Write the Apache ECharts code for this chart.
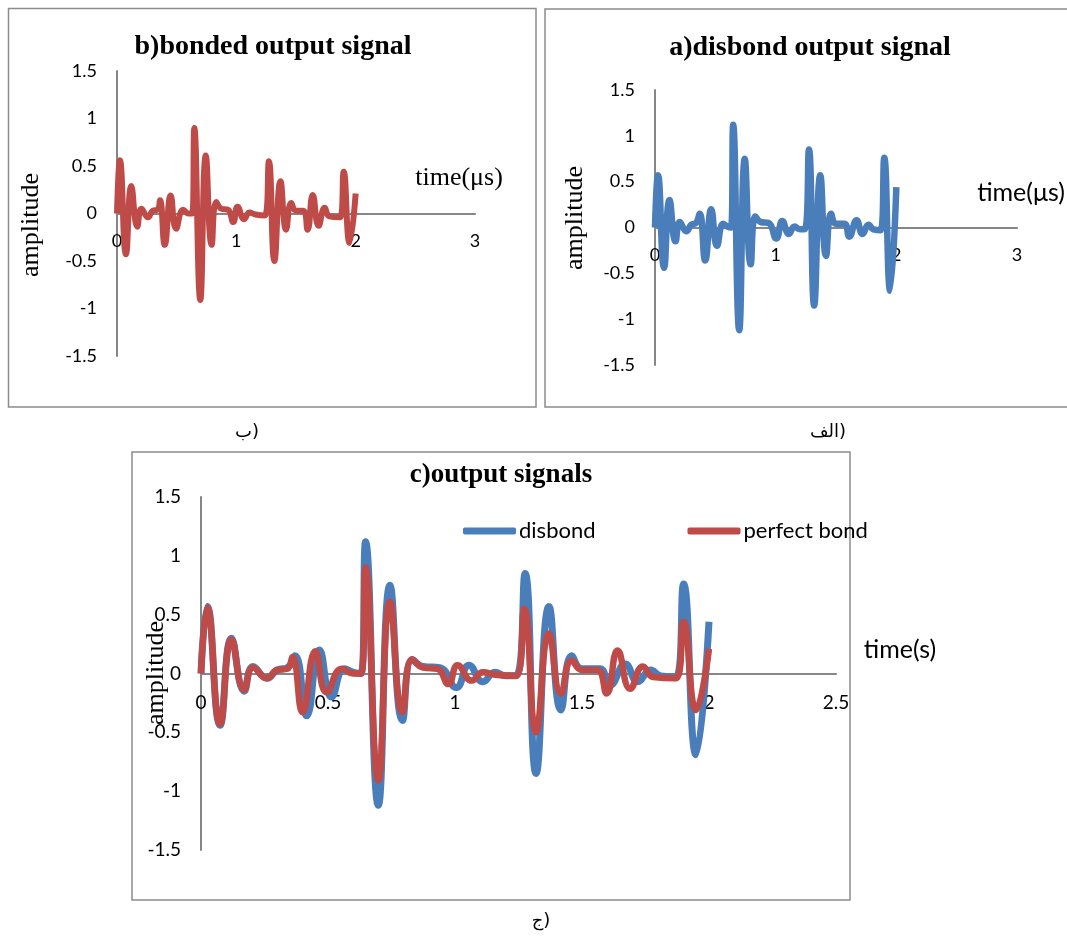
<!DOCTYPE html>
<html>
<head>
<meta charset="utf-8">
<script src="https://cdn.jsdelivr.net/npm/echarts@6/dist/echarts.min.js"></script>
<style>
html,body{margin:0;padding:0;background:#fff;}
#c{width:1067px;height:937px;}
</style>
</head>
<body>
<div id="c"></div>
<script>
// time values (µs) and amplitudes
const disbondTime = [0,0.025,0.075,0.12,0.17,0.205,0.26,0.30,0.34,0.37,0.416,0.466,0.514,0.565,0.60,0.63,0.648,0.698,0.744,0.793,0.832,0.875,0.94,1.005,1.055,1.11,1.157,1.20,1.24,1.276,1.319,1.37,1.417,1.46,1.50,1.57,1.61,1.67,1.72,1.77,1.81,1.87,1.90,1.949,2.0];
const disbondAmp  = [0,0.57,-0.44,0.30,-0.15,0.06,-0.04,0.03,0.05,0.15,-0.36,0.20,-0.20,0.04,0.01,0.0,1.12,-1.12,0.75,-0.40,0.12,0.06,0.05,-0.12,0.07,-0.07,0.01,-0.02,-0.02,0.85,-0.85,0.57,-0.31,0.15,0.04,0.04,-0.10,0.08,-0.07,0.03,-0.02,-0.03,0.76,-0.69,0.44];

const bondTime = [0,0.025,0.075,0.12,0.17,0.205,0.26,0.30,0.34,0.36,0.40,0.45,0.495,0.555,0.60,0.63,0.648,0.698,0.744,0.793,0.832,0.875,0.93,0.974,1.01,1.066,1.11,1.16,1.24,1.273,1.319,1.37,1.417,1.46,1.50,1.56,1.597,1.64,1.69,1.74,1.78,1.87,1.90,1.949,2.0];
const bondAmp  = [0,0.56,-0.43,0.29,-0.14,0.05,-0.04,0.03,0.04,0.14,-0.33,0.19,-0.16,0.04,0.0,0.0,0.90,-0.91,0.61,-0.33,0.12,0.05,0.04,-0.09,0.07,-0.06,0.01,-0.01,-0.02,0.55,-0.50,0.34,-0.17,0.11,0.03,0.03,-0.17,0.195,-0.13,0.06,-0.03,-0.04,0.44,-0.31,0.21];

const seriesNames = ['disbond','perfect bond'];
const titles = ['b)bonded output signal','a)disbond output signal','c)output signals'];
const xNames = ['time(\u03bcs)','time(\u03bcs)','time(s)'];
const yName = 'amplitude';
const panelLabels = ['\u0628)','\u0627\u0644\u0641)','\u062c)'];

const BLUE = '#4A7EBB', RED = '#BE4B48', AXIS = '#868686';
const pairs = (t, v) => t.map((x, i) => [x, v[i]]);

const chart = echarts.init(document.getElementById('c'), null, {renderer:'canvas'});

const grids = [
  {left:117, top:71, width:358, height:285},
  {left:655, top:90, width:362, height:275},
  {left:201, top:497, width:635, height:353}
];

// x axis sits at amplitude 0 (middle of the symmetric y range)
function xAx(gi, max, fs, margin){
  return {gridIndex: gi, type:'value', min:0, max:max, interval: gi===2?0.5:1,
    position:'bottom', offset: -grids[gi].height/2,
    axisLine:{show:true, onZero:false, lineStyle:{color:AXIS, width:2}},
    axisTick:{show:false}, splitLine:{show:false},
    axisLabel:{color:'#000', fontFamily:'Lato', fontSize:fs, margin:margin}};
}
function yAx(gi, fs){
  return {gridIndex: gi, type:'value', min:-1.5, max:1.5, interval:0.5,
    axisLine:{show:true, onZero:false, lineStyle:{color:AXIS, width:2}},
    axisTick:{show:false}, splitLine:{show:false},
    axisLabel:{color:'#000', fontFamily:'Lato', fontSize:fs, margin:20}};
}

const serif = 'Liberation Serif';
function txt(x, y, s, font, size, opts){
  return Object.assign({type:'text', x:x, y:y, silent:true,
    style:{text:s, fontFamily:font, fontSize:size, fill:'#000', align:'center', verticalAlign:'middle',
      fontWeight:(opts&&opts.bold)?'bold':'normal'}}, (opts&&opts.rot)?{rotation:Math.PI/2}:{});
}

const option = {
  animation:false,
  backgroundColor:'#fff',
  grid: grids,
  xAxis:[xAx(0,3,18,19), xAx(1,3,18,19), xAx(2,2.5,19,20)],
  yAxis:[yAx(0,18), yAx(1,18), yAx(2,19)],
  legend:{
    data:seriesNames, left:458, top:515, itemWidth:53, itemHeight:7, itemGap:92,
    icon:'roundRect', textStyle:{fontFamily:'Lato', fontSize:22, color:'#000', padding:[0,0,0,-2]}
  },
  series:[
    {name:'bonded', type:'line', xAxisIndex:0, yAxisIndex:0, data:pairs(bondTime,bondAmp), smooth:true, symbol:'none', lineStyle:{color:RED, width:6}, itemStyle:{color:RED}},
    {name:'disbond only', type:'line', xAxisIndex:1, yAxisIndex:1, data:pairs(disbondTime,disbondAmp), smooth:true, symbol:'none', lineStyle:{color:BLUE, width:6.5}, itemStyle:{color:BLUE}},
    {name:seriesNames[0], type:'line', xAxisIndex:2, yAxisIndex:2, data:pairs(disbondTime,disbondAmp), smooth:true, symbol:'none', lineStyle:{color:BLUE, width:7}, itemStyle:{color:BLUE}},
    {name:seriesNames[1], type:'line', xAxisIndex:2, yAxisIndex:2, data:pairs(bondTime,bondAmp), smooth:true, symbol:'none', lineStyle:{color:RED, width:6.5}, itemStyle:{color:RED}}
  ],
  graphic:[
    {type:'rect', shape:{x:8.5, y:8.5, width:527.5, height:398.5}, style:{fill:null, stroke:'#8c8c8c', lineWidth:1.5}, silent:true, z:-1},
    {type:'rect', shape:{x:545, y:9, width:530, height:398}, style:{fill:null, stroke:'#8c8c8c', lineWidth:1.5}, silent:true, z:-1},
    {type:'rect', shape:{x:132, y:452, width:718, height:448}, style:{fill:null, stroke:'#8c8c8c', lineWidth:1.5}, silent:true, z:-1},
    txt(273, 47, titles[0], serif, 28, {bold:true}),
    txt(810, 48, titles[1], serif, 28, {bold:true}),
    txt(501, 475, titles[2], serif, 27, {bold:true}),
    txt(31, 225, yName, serif, 26, {rot:true}),
    txt(575, 218, yName, serif, 26, {rot:true}),
    txt(156, 673, yName, serif, 26, {rot:true}),
    txt(459, 178, xNames[0], serif, 26),
    txt(1021, 193, xNames[1], 'Lato', 25),
    txt(900, 650, xNames[2], 'Lato', 25),
    txt(247, 432, panelLabels[0], 'DejaVu Sans', 18),
    txt(828, 432, panelLabels[1], 'DejaVu Sans', 18),
    txt(541, 921, panelLabels[2], 'DejaVu Sans', 18)
  ]
};
chart.setOption(option);
</script>
</body>
</html>
